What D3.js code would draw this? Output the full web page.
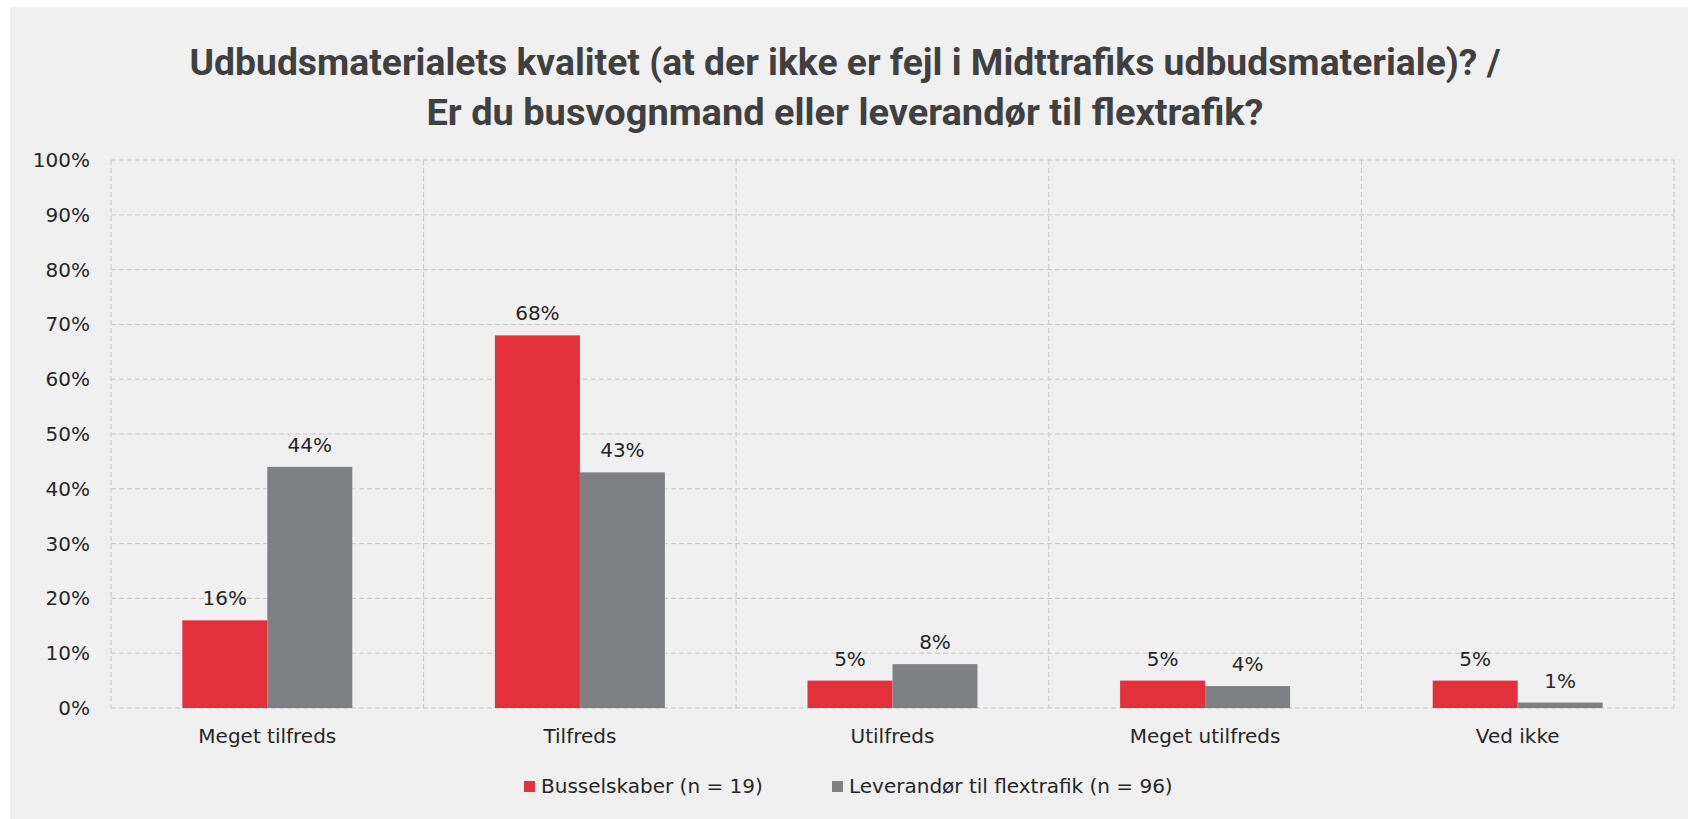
<!DOCTYPE html>
<html>
  <head>
    <meta charset="utf-8">
    <style>
      body { margin: 0; background: #fff; }
      .grid line { stroke: #c6c6c6; stroke-dasharray: 5,3; stroke-width: 1; }
      .axis text { font-family: "DejaVu Sans", Verdana, sans-serif; font-size: 20px; fill: #262626; }
      .lbl { font-family: "DejaVu Sans", Verdana, sans-serif; font-size: 20px; fill: #262626; }
      .title { font-family: Roboto, "Open Sans", sans-serif; font-weight: 700; font-size: 37px; fill: #404040; }
    </style>
  </head>
  <body>
    <svg width="1688" height="819"></svg>
    <script src="https://d3js.org/d3.v7.min.js"></script>
    <script>
      var categories = ["Meget tilfreds", "Tilfreds", "Utilfreds", "Meget utilfreds", "Ved ikke"];
      var seriesNames = ["Busselskaber (n = 19)", "Leverandør til flextrafik (n = 96)"];
      var busselskaber = [0.16, 0.68, 0.05, 0.05, 0.05];
      var leverandor = [0.44, 0.43, 0.08, 0.04, 0.01];
      var yTicks = [0, 0.1, 0.2, 0.3, 0.4, 0.5, 0.6, 0.7, 0.8, 0.9, 1];
      var titleLines = [
        "Udbudsmaterialets kvalitet (at der ikke er fejl i Midttrafiks udbudsmateriale)? /",
        "Er du busvognmand eller leverandør til flextrafik?"
      ];
      var colors = ["#e3303d", "#7f8084"];

      var svg = d3.select("svg");
      var plotLeft = 111, plotRight = 1674, plotTop = 160, plotBottom = 708;

      // panel background
      svg.append("rect")
        .attr("x", 10).attr("y", 7)
        .attr("width", 1678).attr("height", 812)
        .attr("fill", "#f0f0f0");

      var x0 = d3.scaleBand().domain(categories).range([plotLeft, plotRight]);
      var x1 = d3.scaleBand().domain(seriesNames).range([0, x0.bandwidth()]).paddingOuter(0.839);
      var y = d3.scaleLinear().domain([0, 1]).range([plotBottom, plotTop]);

      // horizontal grid
      var grid = svg.append("g").attr("class", "grid");
      grid.selectAll("line.h")
        .data(yTicks)
        .enter().append("line")
        .attr("class", "h")
        .attr("x1", plotLeft).attr("x2", plotRight)
        .attr("y1", function(d) { return y(d); })
        .attr("y2", function(d) { return y(d); });

      // vertical grid at category boundaries
      var bounds = categories.map(function(c) { return x0(c); }).concat([plotRight]);
      grid.selectAll("line.v")
        .data(bounds)
        .enter().append("line")
        .attr("class", "v")
        .attr("x1", function(d) { return d; }).attr("x2", function(d) { return d; })
        .attr("y1", plotTop).attr("y2", plotBottom);

      // y axis labels
      var yAxis = svg.append("g")
        .attr("class", "axis")
        .attr("transform", "translate(" + (plotLeft - 21) + ",0)")
        .call(d3.axisLeft(y).tickValues(yTicks).tickFormat(d3.format(".0%")).tickSize(0).tickPadding(0));
      yAxis.select(".domain").remove();

      // x axis labels
      var xAxis = svg.append("g")
        .attr("class", "axis")
        .attr("transform", "translate(0," + (plotBottom + 20) + ")")
        .call(d3.axisBottom(x0).tickSize(0).tickPadding(0));
      xAxis.select(".domain").remove();
      xAxis.selectAll("text").attr("dy", "0.75em");

      var series = [busselskaber, leverandor];
      series.forEach(function(vals, si) {
        var g = svg.append("g");
        g.selectAll("rect")
          .data(vals)
          .enter().append("rect")
          .attr("x", function(d, i) { return x0(categories[i]) + x1(seriesNames[si]); })
          .attr("y", function(d) { return y(d); })
          .attr("width", x1.bandwidth())
          .attr("height", function(d) { return plotBottom - y(d); })
          .attr("fill", colors[si]);

        g.selectAll("text")
          .data(vals)
          .enter().append("text")
          .attr("class", "lbl")
          .attr("text-anchor", "middle")
          .attr("x", function(d, i) { return x0(categories[i]) + x1(seriesNames[si]) + x1.bandwidth() / 2; })
          .attr("y", function(d) { return y(d) - 15; })
          .text(function(d) { return d3.format(".0%")(d); });
      });

      // title
      svg.selectAll("text.title")
        .data(titleLines)
        .enter().append("text")
        .attr("class", "title")
        .attr("text-anchor", "middle")
        .attr("x", 845)
        .attr("y", function(d, i) { return 75 + i * 50; })
        .attr("textLength", function(d, i) { return i === 0 ? 1311 : 837; })
        .attr("lengthAdjust", "spacingAndGlyphs")
        .text(function(d) { return d; });

      // legend
      var legendX = [524, 832];
      var legend = svg.append("g");
      seriesNames.forEach(function(name, i) {
        legend.append("rect")
          .attr("x", legendX[i]).attr("y", 781)
          .attr("width", 11).attr("height", 11)
          .attr("fill", colors[i]);
        legend.append("text")
          .attr("class", "lbl")
          .attr("x", legendX[i] + 17).attr("y", 793)
          .text(name);
      });
    </script>
  </body>
</html>
